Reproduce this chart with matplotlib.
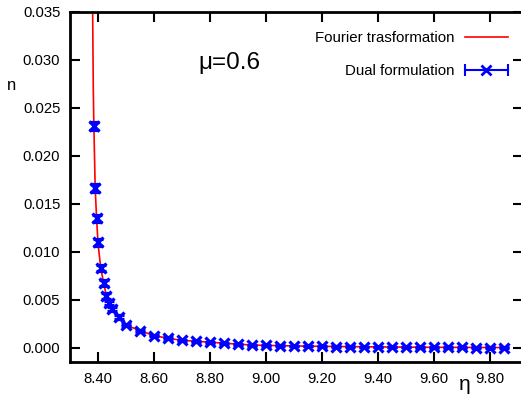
import matplotlib
matplotlib.use("Agg")
import matplotlib.pyplot as plt
from matplotlib.lines import Line2D
from matplotlib.legend_handler import HandlerBase
from matplotlib.ticker import FormatStrFormatter

plt.rcParams['font.family'] = ['Liberation Sans', 'DejaVu Sans']

# Fourier transformation curve
fourier_x = [8.381, 8.383, 8.385, 8.39, 8.395, 8.40, 8.41, 8.42, 8.43, 8.44, 8.45,
             8.475, 8.50, 8.55, 8.60, 8.65, 8.70, 8.75, 8.80, 8.85, 8.90, 8.95,
             9.00, 9.10, 9.20, 9.30, 9.40, 9.50, 9.60, 9.70, 9.80, 9.86]
fourier_y = [0.0347, 0.0275, 0.0235, 0.0166, 0.0135, 0.0109, 0.0083, 0.0068, 0.0054,
             0.0047, 0.0041, 0.0032, 0.0024, 0.0018, 0.0013, 0.0010, 0.0008, 0.0007,
             0.0006, 0.0005, 0.0004, 0.0003, 0.00027, 0.00021, 0.00017, 0.00014,
             0.00011, 0.00009, 0.00007, 0.00006, 0.00005, 0.00004]

# Dual formulation points
dual_x = [8.385, 8.39, 8.395, 8.40, 8.41, 8.42, 8.43, 8.44, 8.45, 8.475, 8.50,
          8.55, 8.60, 8.65, 8.70, 8.75, 8.80, 8.85, 8.90, 8.95, 9.00, 9.05, 9.10,
          9.15, 9.20, 9.25, 9.30, 9.35, 9.40, 9.45, 9.50, 9.55, 9.60, 9.65, 9.70,
          9.75, 9.80, 9.85]
dual_y = [0.0231, 0.0167, 0.0135, 0.0110, 0.0083, 0.0068, 0.0054, 0.0047, 0.0041,
          0.00326, 0.0024, 0.0018, 0.0013, 0.0010, 0.0008, 0.0007, 0.0006, 0.0005,
          0.0004, 0.0003, 0.00027, 0.00024, 0.00021, 0.00019, 0.00017, 0.00015,
          0.00014, 0.00012, 0.00011, 0.0001, 0.00009, 0.00008, 0.00007, 0.00007,
          0.00006, 0.00005, 0.00005, 0.00004]
dual_err = [0.0004, 0.0004, 0.0004, 0.0004, 0.0003, 0.0003, 0.0003, 0.0002, 0.0002,
            0.0002, 0.0001, 0.0001, 0.0001, 0.0001, 0.00005, 0.00005, 0.00005,
            0.00005, 0.00005, 0.00005, 0.00003, 0.00003, 0.00003, 0.00003, 0.00003,
            0.00003, 0.00003, 0.00003, 0.00003, 0.00003, 0.00003, 0.00003, 0.00003,
            0.00003, 0.00003, 0.00003, 0.00003, 0.00003]

x_ticks = [8.40, 8.60, 8.80, 9.00, 9.20, 9.40, 9.60, 9.80]
y_ticks = [0.000, 0.005, 0.010, 0.015, 0.020, 0.025, 0.030, 0.035]

fig = plt.figure(figsize=(5.21, 3.94), dpi=100)
ax = fig.add_axes([70/521, 1-362/394, 453/521, 350/394])

red_line, = ax.plot(fourier_x, fourier_y, color='#ff0000', lw=1.2, zorder=2)
ax.errorbar(dual_x, dual_y, yerr=dual_err, fmt='x', color='#0000ff', ms=7.5, mew=2.3,
            elinewidth=1.5, capsize=3.5, capthick=1.5, zorder=3)

ax.set_xlim(8.30, 9.918)
ax.set_ylim(-0.00146, 0.035)
ax.set_xticks(x_ticks)
ax.set_yticks(y_ticks)
ax.xaxis.set_major_formatter(FormatStrFormatter('%.2f'))
ax.yaxis.set_major_formatter(FormatStrFormatter('%.3f'))
ax.tick_params(direction='in', length=7, width=1.5, top=True, right=True,
               labelsize=10.7, pad=7, colors='black')
for s in ax.spines.values():
    s.set_linewidth(2)


class ErrHandler(HandlerBase):
    def create_artists(self, legend, orig_handle, xdescent, ydescent, width, height,
                       fontsize, trans):
        y = height / 2 - ydescent
        x0, x1 = -xdescent, -xdescent + width
        line = Line2D([x0, x1], [y, y], color='#0000ff', lw=1.5)
        caps = Line2D([x0, x1], [y, y], ls='none', marker='|', ms=8, mew=1.5,
                      color='#0000ff')
        mk = Line2D([(x0 + x1) / 2], [y], ls='none', marker='x', ms=7, mew=2,
                    color='#0000ff')
        for a in (line, caps, mk):
            a.set_transform(trans)
        return [line, caps, mk]


dual_handle = Line2D([], [], color='#0000ff')
leg = ax.legend([red_line, dual_handle], ['Fourier trasformation', 'Dual formulation'],
                handler_map={dual_handle: ErrHandler()}, loc='upper right',
                bbox_to_anchor=(515/521, 1-24/394), bbox_transform=fig.transFigure,
                frameon=False, markerfirst=False, fontsize=10.8, handlelength=2.85,
                labelspacing=1.25, handletextpad=0.7, borderpad=0)

ax.text(8.870, 0.0297, 'μ=0.6', fontsize=17.5, ha='center', va='center')
fig.text(12/521, 1-86/394, 'n', fontsize=12, ha='center', va='center')
fig.text(465/521, 1-384/394, 'η', fontsize=15, ha='center', va='center')

fig.savefig('out.png', dpi=100)
